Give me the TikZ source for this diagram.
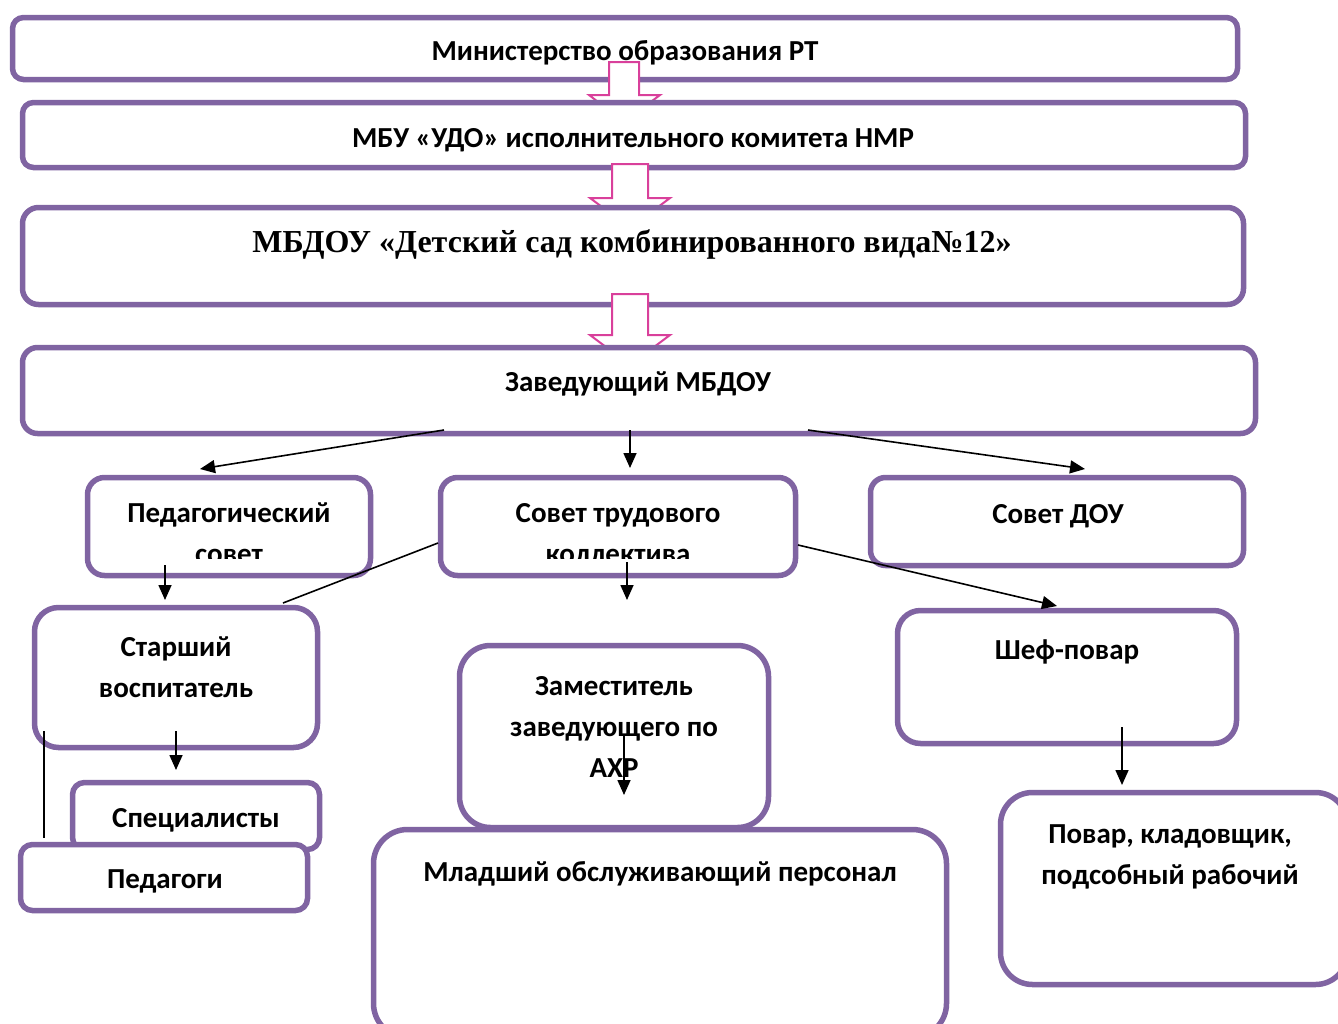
\documentclass[tikz,border=0pt]{standalone}
\usepackage{fontspec}
\setmainfont{Carlito}
\newfontfamily\serifbold{Liberation Serif}
\usetikzlibrary{arrows.meta}
\definecolor{boxpurple}{HTML}{8064A2}
\definecolor{arrowpink}{HTML}{D9409B}
\tikzset{
  orgbox/.style={draw=boxpurple, line width=5.5pt, fill=white, rectangle, inner sep=0pt},
  lbl/.style={anchor=base, inner sep=0pt, align=center, font=\fontsize{29}{41}\selectfont\bfseries},
  slbl/.style={anchor=base, inner sep=0pt, align=center, font=\fontsize{32}{38}\selectfont\serifbold\bfseries},
  blockarrow/.style={draw=arrowpink, line width=2pt, fill=white, line join=miter},
  conn/.style={draw=black, line width=1.6pt, -{Triangle[length=15pt,width=13pt]}},
  plain/.style={draw=black, line width=1.6pt}
}
\begin{document}
\begin{tikzpicture}[x=1pt,y=-1pt]
\useasboundingbox (0,0) rectangle (1338,1023);
\clip (0,0) rectangle (1338,1023);
% level 1
\node[orgbox, rounded corners=11pt, minimum width=1225pt, minimum height=62pt] (b1) at (625,48.5) {};
\node[lbl] (t1) at (625,60) {Министерство образования РТ};
\draw[blockarrow] (609,62) -- (639,62) -- (639,95) -- (660,95) -- (624,122) -- (589,95) -- (609,95) -- cycle;
% level 2
\node[orgbox, rounded corners=11pt, minimum width=1223pt, minimum height=65pt] (b2) at (634,135) {};
\node[lbl] (t2) at (633,147) {МБУ «УДО» исполнительного комитета НМР};
\draw[blockarrow] (612,164) -- (648,164) -- (648,198) -- (670,198) -- (630,228) -- (590,198) -- (612,198) -- cycle;
% level 3
\node[orgbox, rounded corners=16pt, minimum width=1221pt, minimum height=97pt] (b3) at (633,256) {};
\node[slbl] (t3) at (632,252) {МБДОУ «Детский сад комбинированного вида№12»};
\draw[blockarrow] (612,294) -- (648,294) -- (648,335) -- (670,335) -- (630,365) -- (590,335) -- (612,335) -- cycle;
% level 4
\node[orgbox, rounded corners=15pt, minimum width=1233pt, minimum height=86pt] (b4) at (639,390.5) {};
\node[lbl] (t4) at (638,391) {Заведующий МБДОУ};
% councils
\node[orgbox, rounded corners=17pt, minimum width=283pt, minimum height=98pt] (bped) at (229,526.5) {};
\begin{scope}
\clip (80,470) rectangle (380,558);
\node[lbl] (tped) at (229,563) {Педагогический\\совет};
\end{scope}
\node[orgbox, rounded corners=17pt, minimum width=355pt, minimum height=98pt] (bsov) at (618,526.5) {};
\begin{scope}
\clip (430,470) rectangle (805,558);
\node[lbl] (tsov) at (618,563) {Совет трудового\\коллектива};
\end{scope}
\node[orgbox, rounded corners=15pt, minimum width=373pt, minimum height=88pt] (bdou) at (1057,521.5) {};
\node[lbl] (tdou) at (1058,523) {Совет ДОУ};
% left column
\node[orgbox, rounded corners=24pt, minimum width=283pt, minimum height=140pt] (bstar) at (176,677.5) {};
\node[lbl] (tstar) at (176,697) {Старший\\воспитатель};
\node[orgbox, rounded corners=12pt, minimum width=247pt, minimum height=67pt] (bspec) at (196,816) {};
\node[lbl] (tspec) at (196,827) {Специалисты};
\node[orgbox, rounded corners=12pt, minimum width=287pt, minimum height=66pt] (bpedag) at (164,877.5) {};
\node[lbl] (tpedag) at (165,888) {Педагоги};
% middle column
\node[orgbox, rounded corners=31pt, minimum width=309pt, minimum height=182pt] (bzam) at (614,736.5) {};
\node[lbl] (tzam) at (614,777) {Заместитель\\заведующего по\\АХР};
\node[orgbox, rounded corners=34pt, minimum width=573pt, minimum height=208pt] (bml) at (660,933.5) {};
\node[lbl] (tml) at (660,881) {Младший обслуживающий персонал};
% right column
\node[orgbox, rounded corners=23pt, minimum width=339pt, minimum height=133pt] (bshef) at (1067,677) {};
\node[lbl] (tshef) at (1067,659) {Шеф-повар};
\node[orgbox, rounded corners=32pt, minimum width=347pt, minimum height=192pt] (bpov) at (1174,888.5) {};
\node[lbl] (tpov) at (1170,884) {Повар, кладовщик,\\подсобный рабочий};
% connector end points
\coordinate (c1s) at (444,430); \coordinate (c1e) at (200,469);
\coordinate (c2s) at (630,430); \coordinate (c2e) at (630,468);
\coordinate (c3s) at (808,430); \coordinate (c3e) at (1085,469);
\coordinate (c4s) at (165,565); \coordinate (c4e) at (165,600);
\coordinate (c5s) at (627,562); \coordinate (c5e) at (627,600);
\coordinate (c6s) at (438,543); \coordinate (c6e) at (283,603);
\coordinate (c7s) at (798,545); \coordinate (c7e) at (1057,606);
\coordinate (c8s) at (176,731); \coordinate (c8e) at (176,770);
\coordinate (c9s) at (44,731);  \coordinate (c9e) at (44,838);
\coordinate (c10s) at (624,735); \coordinate (c10e) at (624,795);
\coordinate (c11s) at (1122,727); \coordinate (c11e) at (1122,785);
\draw[conn] (c1s) -- (c1e);
\draw[conn] (c2s) -- (c2e);
\draw[conn] (c3s) -- (c3e);
\draw[conn] (c4s) -- (c4e);
\draw[conn] (c5s) -- (c5e);
\draw[plain] (c6s) -- (c6e);
\draw[conn] (c7s) -- (c7e);
\draw[conn] (c8s) -- (c8e);
\draw[plain] (c9s) -- (c9e);
\draw[conn] (c10s) -- (c10e);
\draw[conn] (c11s) -- (c11e);
\end{tikzpicture}
\end{document}
